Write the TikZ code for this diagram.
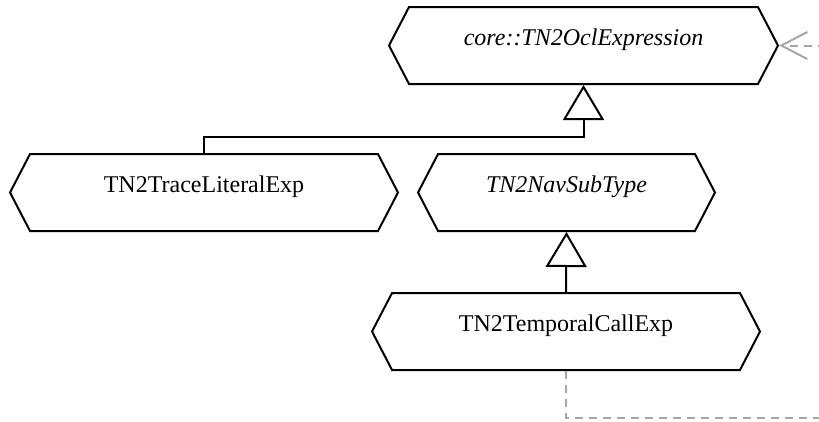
\documentclass[tikz,border=0pt]{standalone}
\usepackage{fontspec}
\setmainfont{Liberation Serif}
\usepackage{tikz}
\usetikzlibrary{arrows.meta, positioning, shapes.symbols}
\definecolor{depgray}{RGB}{166,166,166}

\begin{document}
\begin{tikzpicture}[
    x=1pt, y=-1pt,
    classbox/.style={
        signal,
        signal to=east and west,
        signal pointer angle=125,
        draw=black,
        line width=2pt,
        fill=white,
        minimum height=77pt,
        inner sep=0pt,
        text height=16pt,
        text depth=16pt,
        font=\fontsize{24}{28}\selectfont
    },
    abstractbox/.style={
        classbox,
        font=\fontsize{24}{28}\selectfont\itshape
    },
    generalize/.style={
        draw=black,
        line width=2pt,
        -{Triangle[open, length=35pt, width=41pt]}
    },
    dependency/.style={
        draw=depgray,
        line width=2pt,
        dash pattern=on 8pt off 6pt,
        -{Straight Barb[length=26pt, width=27pt]}
    }
]

\useasboundingbox (0,0) rectangle (819,421);
\clip (0,0) rectangle (819,421);

% Classes
\node[abstractbox, minimum width=389pt] (core) at (583.5,45.5) {core::TN2OclExpression};
\node[classbox, minimum width=388pt] (trace) at (204,192.5) {TN2TraceLiteralExp};
\node[abstractbox, minimum width=297pt] (nav) at (566.5,192.5) {TN2NavSubType};
\node[classbox, minimum width=388pt] (tcall) at (566,331.5) {TN2TemporalCallExp};

% Bend points
\coordinate (genjoint) at (583.5,137);
\coordinate (depturn) at (850,418);

% Generalizations
\draw[generalize] (trace.north) |- (genjoint) -- (core.south);
\draw[generalize] (tcall.north) -- (nav.south);

% Dependency
\draw[dependency] (tcall.south) |- (depturn) |- (core.east);

\end{tikzpicture}
\end{document}
